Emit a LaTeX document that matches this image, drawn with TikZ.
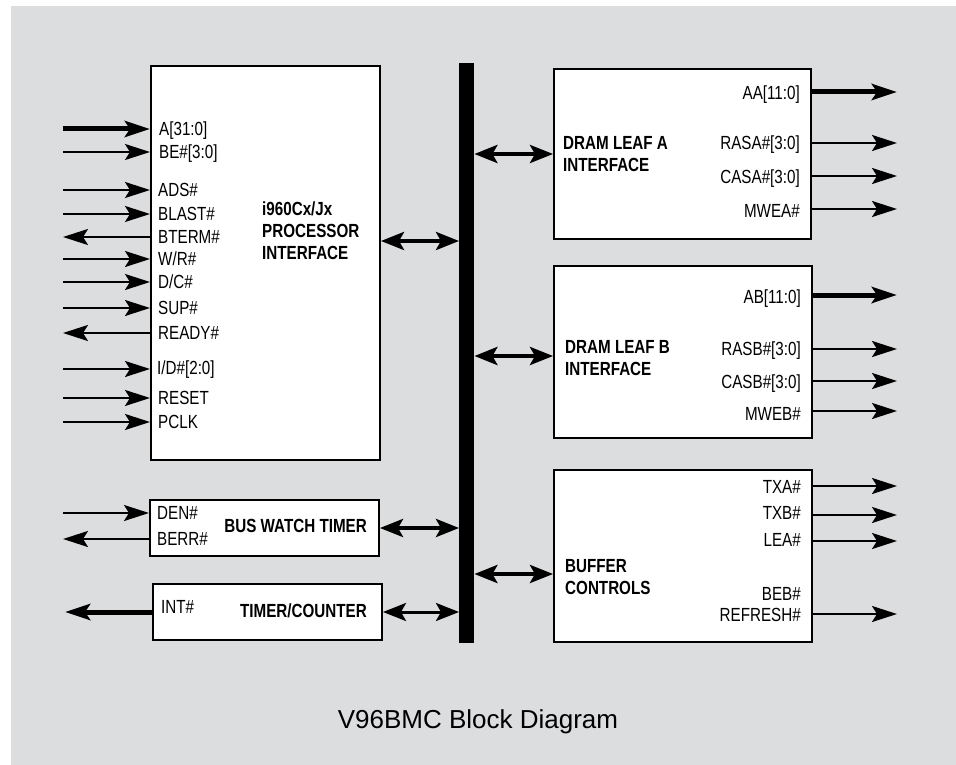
\documentclass[tikz,border=0pt]{standalone}
\usepackage{fontspec}
\setmainfont{Liberation Sans}
\newfontfamily\narrowsans{Liberation Sans}[FakeStretch=0.8]
\usepackage{xcolor}
\definecolor{panelGray}{HTML}{DCDDDF}
\definecolor{inkBlack}{HTML}{000000}
\usepackage{tikz}
\usetikzlibrary{
    arrows.meta,
    positioning,
    calc
}
\tikzset{
    % Functional blocks - plain white boxes
    block/.style={
        rectangle,
        draw=inkBlack,
        line width=2pt,
        fill=white,
        anchor=north west,
        inner sep=0pt,
    },
    % Vertical internal bus
    busbar/.style={
        rectangle,
        fill=inkBlack,
        anchor=north west,
        inner sep=0pt,
        minimum width=15pt,
        minimum height=580pt,
    },
    % Signal names beside the pins
    sigtext/.style={
        font=\narrowsans\fontsize{19}{20}\selectfont,
        inner sep=0pt,
        text height=13.5pt,
        text depth=0pt,
    },
    % Bold block names
    blocktitle/.style={
        font=\narrowsans\bfseries\fontsize{19}{22}\selectfont,
        align=left,
        inner sep=0pt,
    },
    % Pin arrows
    sig/.style={
        -{Stealth[length=25pt, width=16pt, inset=5pt]},
        line width=2pt,
        draw=inkBlack,
    },
    sig thick/.style={
        sig,
        line width=5pt,
    },
    % Block to bus arrows
    duplex/.style={
        {Stealth[length=23pt, width=18pt, inset=5pt]}-{Stealth[length=23pt, width=18pt, inset=5pt]},
        line width=4pt,
        draw=inkBlack,
    },
}

\begin{document}
\begin{tikzpicture}[x=1pt, y=-1pt]
    \useasboundingbox (0,0) rectangle (956,765);
    \fill [panelGray] (11,6) rectangle (956,765);

    % blocks
    \node (proc) [block, minimum width=229pt, minimum height=394pt] at (150,65) {};
    \node (bwt) [block, minimum width=229pt, minimum height=56pt] at (149,499) {};
    \node (tmr) [block, minimum width=229pt, minimum height=56pt] at (152,583) {};
    \node (bus) [busbar] at (459,63) {};
    \node (dramA) [block, minimum width=257pt, minimum height=170pt] at (553,68) {};
    \node (dramB) [block, minimum width=258pt, minimum height=172pt] at (553,265) {};
    \node (buffer) [block, minimum width=258pt, minimum height=172pt] at (553,469) {};

    \node (procTitle) [blocktitle, anchor=west] at (262,231) {i960Cx/Jx\\PROCESSOR\\INTERFACE};
    \node (bwtTitle) [blocktitle, anchor=east] at (367,526) {BUS WATCH TIMER};
    \node (tmrTitle) [blocktitle, anchor=east] at (367,611) {TIMER/COUNTER};
    \node (dramATitle) [blocktitle, anchor=west] at (563,154) {DRAM LEAF A\\INTERFACE};
    \node (dramBTitle) [blocktitle, anchor=west] at (565,358) {DRAM LEAF B\\INTERFACE};
    \node (bufferTitle) [blocktitle, anchor=west] at (565,577) {BUFFER\\CONTROLS};

    % processor pins
    \node (aLbl) [sigtext, anchor=west] at (159,129) {A[31:0]};
    \node (beLbl) [sigtext, anchor=west] at (159,152) {BE\#[3:0]};
    \node (adsLbl) [sigtext, anchor=west] at (158,190) {ADS\#};
    \node (blastLbl) [sigtext, anchor=west] at (158,214) {BLAST\#};
    \node (btermLbl) [sigtext, anchor=west] at (158,237) {BTERM\#};
    \node (wrLbl) [sigtext, anchor=west] at (158,259) {W/R\#};
    \node (dcLbl) [sigtext, anchor=west] at (158,282) {D/C\#};
    \node (supLbl) [sigtext, anchor=west] at (158,308) {SUP\#};
    \node (readyLbl) [sigtext, anchor=west] at (158,333) {READY\#};
    \node (idLbl) [sigtext, anchor=west] at (157,368) {I/D\#[2:0]};
    \node (resetLbl) [sigtext, anchor=west] at (158,398) {RESET};
    \node (pclkLbl) [sigtext, anchor=west] at (158,422) {PCLK};

    \coordinate (aIn) at (63,129);
    \coordinate (beIn) at (63,152);
    \coordinate (adsIn) at (63,190);
    \coordinate (blastIn) at (63,214);
    \coordinate (btermOut) at (63,237);
    \coordinate (wrIn) at (63,259);
    \coordinate (dcIn) at (63,282);
    \coordinate (supIn) at (63,308);
    \coordinate (readyOut) at (63,333);
    \coordinate (idIn) at (63,369);
    \coordinate (resetIn) at (63,398);
    \coordinate (pclkIn) at (63,422);

    \draw [sig thick] (aIn) -- (aIn -| proc.west);
    \draw [sig] (beIn) -- (beIn -| proc.west);
    \draw [sig] (adsIn) -- (adsIn -| proc.west);
    \draw [sig] (blastIn) -- (blastIn -| proc.west);
    \draw [sig] (btermOut -| proc.west) -- (btermOut);
    \draw [sig] (wrIn) -- (wrIn -| proc.west);
    \draw [sig] (dcIn) -- (dcIn -| proc.west);
    \draw [sig] (supIn) -- (supIn -| proc.west);
    \draw [sig] (readyOut -| proc.west) -- (readyOut);
    \draw [sig] (idIn) -- (idIn -| proc.west);
    \draw [sig] (resetIn) -- (resetIn -| proc.west);
    \draw [sig] (pclkIn) -- (pclkIn -| proc.west);

    % bus watch timer and timer/counter pins
    \node (denLbl) [sigtext, anchor=west] at (157,513) {DEN\#};
    \node (berrLbl) [sigtext, anchor=west] at (157,539) {BERR\#};
    \node (intLbl) [sigtext, anchor=west] at (161,607) {INT\#};
    \coordinate (denIn) at (63,513);
    \coordinate (berrOut) at (63,539);
    \coordinate (intOut) at (65,612);
    \draw [sig] (denIn) -- (denIn -| bwt.west);
    \draw [sig] (berrOut -| bwt.west) -- (berrOut);
    \draw [sig thick] (intOut -| tmr.west) -- (intOut);

    % DRAM leaf A pins
    \node (aaLbl) [sigtext, anchor=east] at (800,93) {AA[11:0]};
    \node (rasaLbl) [sigtext, anchor=east] at (800,143) {RASA\#[3:0]};
    \node (casaLbl) [sigtext, anchor=east] at (800,177) {CASA\#[3:0]};
    \node (mweaLbl) [sigtext, anchor=east] at (800,211) {MWEA\#};
    \coordinate (aaOut) at (897,92);
    \coordinate (rasaOut) at (897,143);
    \coordinate (casaOut) at (897,176);
    \coordinate (mweaOut) at (897,209);
    \draw [sig thick] (aaOut -| dramA.east) -- (aaOut);
    \draw [sig] (rasaOut -| dramA.east) -- (rasaOut);
    \draw [sig] (casaOut -| dramA.east) -- (casaOut);
    \draw [sig] (mweaOut -| dramA.east) -- (mweaOut);

    % DRAM leaf B pins
    \node (abLbl) [sigtext, anchor=east] at (801,297) {AB[11:0]};
    \node (rasbLbl) [sigtext, anchor=east] at (801,349) {RASB\#[3:0]};
    \node (casbLbl) [sigtext, anchor=east] at (801,382) {CASB\#[3:0]};
    \node (mwebLbl) [sigtext, anchor=east] at (801,414) {MWEB\#};
    \coordinate (abOut) at (897,295);
    \coordinate (rasbOut) at (897,349);
    \coordinate (casbOut) at (897,381);
    \coordinate (mwebOut) at (897,411);
    \draw [sig thick] (abOut -| dramB.east) -- (abOut);
    \draw [sig] (rasbOut -| dramB.east) -- (rasbOut);
    \draw [sig] (casbOut -| dramB.east) -- (casbOut);
    \draw [sig] (mwebOut -| dramB.east) -- (mwebOut);

    % buffer control pins
    \node (txaLbl) [sigtext, anchor=east] at (801,487) {TXA\#};
    \node (txbLbl) [sigtext, anchor=east] at (801,513) {TXB\#};
    \node (leaLbl) [sigtext, anchor=east] at (801,540) {LEA\#};
    \node (bebLbl) [sigtext, anchor=east] at (801,594) {BEB\#};
    \node (refreshLbl) [sigtext, anchor=east] at (801,615) {REFRESH\#};
    \coordinate (txaOut) at (897,486);
    \coordinate (txbOut) at (897,515);
    \coordinate (leaOut) at (897,541);
    \coordinate (refreshOut) at (897,614);
    \draw [sig] (txaOut -| buffer.east) -- (txaOut);
    \draw [sig] (txbOut -| buffer.east) -- (txbOut);
    \draw [sig] (leaOut -| buffer.east) -- (leaOut);
    \draw [sig] (refreshOut -| buffer.east) -- (refreshOut);

    % block to bus
    \draw [duplex] ([yshift=22pt]proc.east) -- ([yshift=22pt]proc.east -| bus.west);
    \draw [duplex] (bwt.east) -- (bwt.east -| bus.west);
    \draw [duplex, line width=3pt] (tmr.east) -- (tmr.east -| bus.west);
    \draw [duplex] (dramA.west -| bus.east) -- (dramA.west);
    \draw [duplex] ([yshift=-4pt]dramB.west -| bus.east) -- ([yshift=-4pt]dramB.west);
    \draw [duplex] ([yshift=-18pt]buffer.west -| bus.east) -- ([yshift=-18pt]buffer.west);

    \node (caption) [font=\fontsize{26}{30}\selectfont, anchor=base] at (478,728) {V96BMC Block Diagram};
\end{tikzpicture}
\end{document}
